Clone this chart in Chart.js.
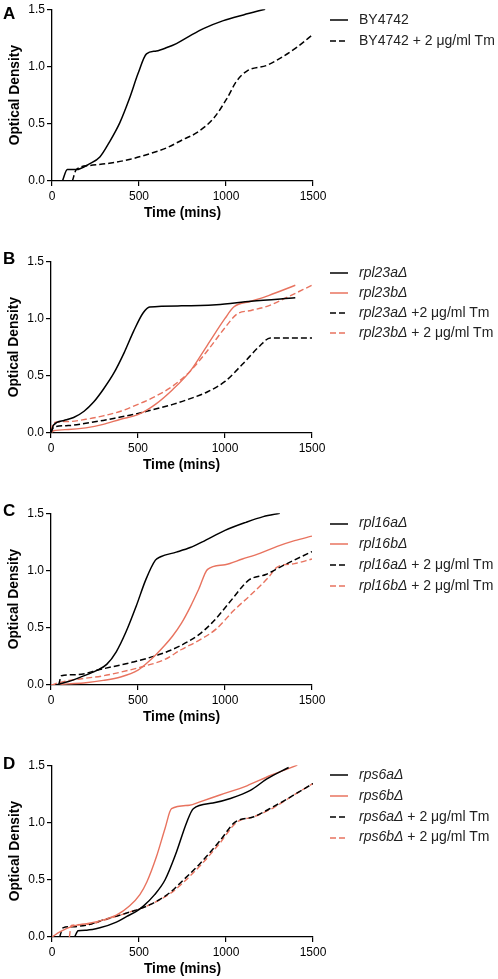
<!DOCTYPE html>
<html>
<head>
<meta charset="utf-8">
<script src="https://cdn.jsdelivr.net/npm/chart.js@4.4.0/dist/chart.umd.min.js"></script>
<style>
  body { margin: 0; background: #fff; font-family: "Liberation Sans", Arial, sans-serif; }
  #page { position: relative; width: 498px; height: 979px; overflow: hidden; }
  .panel { position: absolute; width: 330px; height: 230px; }
  .letter { position: absolute; left: 3px; font-weight: bold; font-size: 17px; line-height: 17px; color: #000; }
  .legend { position: absolute; left: 330px; font-size: 14px; color: #222; }
  .row { white-space: nowrap; }
  .row svg { vertical-align: middle; margin-right: 11px; }
</style>
</head>
<body>
<div id="page"></div>
<script>
// ---------------------------
// data (time in mins, optical density)
// ---------------------------
const xTicks = [0, 500, 1000, 1500];
const yTicks = [0, 0.5, 1.0, 1.5];

// A
const by4742Time = [60, 88, 140, 215, 275, 330, 390, 445, 495, 543, 600, 660, 715, 790, 870, 985, 1100, 1225];
const by4742OD = [0, 0.10, 0.10, 0.15, 0.21, 0.34, 0.51, 0.72, 0.94, 1.11, 1.135, 1.165, 1.20, 1.265, 1.33, 1.40, 1.45, 1.50];
const by4742TmTime = [117, 140, 215, 330, 450, 565, 660, 750, 830, 930, 1005, 1060, 1120, 1235, 1310, 1410, 1500];
const by4742TmOD = [0, 0.10, 0.135, 0.155, 0.19, 0.24, 0.29, 0.36, 0.42, 0.55, 0.72, 0.87, 0.96, 1.01, 1.07, 1.17, 1.28];

// B
const rpl23aTime = [0, 15, 75, 130, 190, 245, 300, 360, 420, 475, 530, 567, 750, 950, 1150, 1404];
const rpl23aOD = [0, 0.07, 0.11, 0.135, 0.19, 0.27, 0.38, 0.52, 0.70, 0.89, 1.05, 1.10, 1.11, 1.12, 1.15, 1.18];
const rpl23bTime = [0, 15, 100, 200, 300, 400, 500, 600, 700, 800, 900, 1000, 1050, 1150, 1250, 1404];
const rpl23bOD = [0, 0.02, 0.03, 0.045, 0.075, 0.12, 0.16, 0.25, 0.38, 0.54, 0.77, 1.0, 1.10, 1.15, 1.20, 1.29];
const rpl23aTmTime = [0, 15, 100, 200, 300, 400, 500, 600, 700, 800, 900, 1000, 1100, 1200, 1260, 1500];
const rpl23aTmOD = [0, 0.05, 0.065, 0.085, 0.11, 0.14, 0.17, 0.21, 0.25, 0.30, 0.36, 0.45, 0.60, 0.76, 0.83, 0.83];
const rpl23bTmTime = [0, 15, 100, 200, 300, 400, 500, 600, 700, 800, 900, 1000, 1070, 1150, 1250, 1350, 1500];
const rpl23bTmOD = [0.02, 0.09, 0.10, 0.12, 0.15, 0.19, 0.25, 0.32, 0.41, 0.54, 0.72, 0.92, 1.04, 1.07, 1.11, 1.18, 1.29];

// C
const rpl16aTime = [25, 100, 180, 260, 320, 375, 430, 490, 545, 600, 630, 720, 800, 870, 1000, 1120, 1220, 1315];
const rpl16aOD = [0, 0.03, 0.075, 0.125, 0.18, 0.29, 0.46, 0.69, 0.92, 1.09, 1.12, 1.16, 1.20, 1.25, 1.35, 1.42, 1.47, 1.50];
const rpl16bTime = [0, 100, 200, 300, 400, 500, 550, 600, 650, 700, 750, 800, 850, 900, 1000, 1100, 1200, 1300, 1400, 1500];
const rpl16bOD = [0, 0.01, 0.02, 0.04, 0.07, 0.13, 0.19, 0.26, 0.34, 0.43, 0.54, 0.68, 0.84, 1.01, 1.05, 1.10, 1.15, 1.21, 1.26, 1.30];
const rpl16aTmTime = [44, 60, 150, 280, 470, 630, 740, 850, 930, 1025, 1100, 1140, 1235, 1330, 1500];
const rpl16aTmOD = [0, 0.08, 0.09, 0.135, 0.20, 0.27, 0.34, 0.44, 0.55, 0.72, 0.86, 0.92, 0.965, 1.04, 1.165];
const rpl16bTmTime = [0, 70, 150, 300, 450, 550, 650, 750, 850, 950, 1050, 1150, 1250, 1300, 1400, 1500];
const rpl16bTmOD = [0, 0.03, 0.05, 0.08, 0.13, 0.17, 0.22, 0.31, 0.39, 0.49, 0.65, 0.79, 0.94, 1.03, 1.06, 1.10];

// D
const rps6aTime = [130, 150, 200, 275, 370, 430, 480, 525, 590, 650, 710, 774, 812, 925, 1025, 1140, 1235, 1360];
const rps6aOD = [0, 0.055, 0.06, 0.08, 0.13, 0.18, 0.22, 0.27, 0.37, 0.50, 0.72, 1.0, 1.12, 1.17, 1.21, 1.28, 1.38, 1.48];
const rps6bTime = [0, 45, 120, 215, 295, 370, 445, 505, 545, 600, 650, 687, 790, 850, 965, 1120, 1255, 1410];
const rps6bOD = [0, 0.045, 0.095, 0.12, 0.15, 0.19, 0.27, 0.37, 0.48, 0.70, 0.95, 1.12, 1.15, 1.18, 1.24, 1.32, 1.41, 1.50];
const rps6aTmTime = [44, 63, 120, 215, 295, 410, 560, 680, 736, 850, 965, 1050, 1160, 1275, 1390, 1500];
const rps6aTmOD = [0, 0.08, 0.09, 0.11, 0.15, 0.20, 0.28, 0.39, 0.47, 0.64, 0.84, 1.00, 1.05, 1.14, 1.24, 1.34];
const rps6bTmTime = [100, 110, 215, 295, 410, 560, 680, 736, 850, 965, 1060, 1160, 1275, 1390, 1500];
const rps6bTmOD = [0, 0.10, 0.11, 0.145, 0.20, 0.28, 0.38, 0.45, 0.62, 0.82, 1.00, 1.05, 1.13, 1.24, 1.34];

const tmSuffix = ' + 2 \u03bcg/ml Tm';

// ---------------------------
// panel layout
// ---------------------------
const BLACK = '#000';
const RED = '#e8735f';

const panels = [
  { letter: 'A', top: -0.3, left: 0.3, letterTop: 5.1, legendTop: 8.5, rowH: 21,
    series: [
      { name: 'BY4742', italic: false, suffix: '', time: by4742Time, od: by4742OD, color: BLACK, dashed: false },
      { name: 'BY4742', italic: false, suffix: tmSuffix, time: by4742TmTime, od: by4742TmOD, color: BLACK, dashed: true }
    ] },
  { letter: 'B', top: 252, left: -1.3, letterTop: 250.1, legendTop: 261.7, rowH: 20,
    series: [
      { name: 'rpl23a\u0394', italic: true, suffix: '', time: rpl23aTime, od: rpl23aOD, color: BLACK, dashed: false },
      { name: 'rpl23b\u0394', italic: true, suffix: '', time: rpl23bTime, od: rpl23bOD, color: RED, dashed: false },
      { name: 'rpl23a\u0394', italic: true, suffix: ' +2 \u03bcg/ml Tm', time: rpl23aTmTime, od: rpl23aTmOD, color: BLACK, dashed: true },
      { name: 'rpl23b\u0394', italic: true, suffix: tmSuffix, time: rpl23bTmTime, od: rpl23bTmOD, color: RED, dashed: true }
    ] },
  { letter: 'C', top: 504, left: -0.6, letterTop: 501.8, legendTop: 512.4, rowH: 20.8,
    series: [
      { name: 'rpl16a\u0394', italic: true, suffix: '', time: rpl16aTime, od: rpl16aOD, color: BLACK, dashed: false },
      { name: 'rpl16b\u0394', italic: true, suffix: '', time: rpl16bTime, od: rpl16bOD, color: RED, dashed: false },
      { name: 'rpl16a\u0394', italic: true, suffix: tmSuffix, time: rpl16aTmTime, od: rpl16aTmOD, color: BLACK, dashed: true },
      { name: 'rpl16b\u0394', italic: true, suffix: tmSuffix, time: rpl16bTmTime, od: rpl16bTmOD, color: RED, dashed: true }
    ] },
  { letter: 'D', top: 756.3, left: 0.3, letterTop: 754.5, legendTop: 764, rowH: 20.8,
    series: [
      { name: 'rps6a\u0394', italic: true, suffix: '', time: rps6aTime, od: rps6aOD, color: BLACK, dashed: false },
      { name: 'rps6b\u0394', italic: true, suffix: '', time: rps6bTime, od: rps6bOD, color: RED, dashed: false },
      { name: 'rps6a\u0394', italic: true, suffix: tmSuffix, time: rps6aTmTime, od: rps6aTmOD, color: BLACK, dashed: true },
      { name: 'rps6b\u0394', italic: true, suffix: tmSuffix, time: rps6bTmTime, od: rps6bTmOD, color: RED, dashed: true }
    ] }
];

Chart.defaults.font.family = '"Liberation Sans", Arial, sans-serif';
Chart.defaults.color = '#000';

function createChart(canvas, series) {
  return new Chart(canvas, {
    type: 'line',
    data: {
      datasets: series.map(s => ({
        data: s.time.map((t, i) => ({ x: t, y: s.od[i] })),
        borderColor: s.color,
        borderWidth: s.color === RED ? 1.4 : 1.5,
        borderDash: s.dashed ? [6, 3] : [],
        pointRadius: 0,
        fill: false,
        cubicInterpolationMode: 'monotone'
      }))
    },
    options: {
      responsive: false,
      animation: false,
      devicePixelRatio: 1,
      layout: { padding: { top: 7, right: 17, bottom: 0, left: 0 } },
      plugins: { legend: { display: false }, tooltip: { enabled: false } },
      scales: {
        x: {
          type: 'linear',
          min: xTicks[0],
          max: xTicks[xTicks.length - 1],
          afterBuildTicks: s => { s.ticks = xTicks.map(v => ({ value: v })); },
          ticks: { padding: 3, maxRotation: 0, font: { size: 12 }, color: '#000', callback: v => String(v) },
          grid: { drawOnChartArea: false, tickLength: 5, color: '#000', lineWidth: 1.2 },
          border: { color: '#000', width: 1.3 },
          title: { display: true, text: 'Time (mins)', color: '#000',
                   font: { size: 13.8, weight: 'bold' }, padding: { top: 0, bottom: 8.6 } },
          afterFit: s => { s.height = 49; }
        },
        y: {
          min: yTicks[0],
          max: yTicks[yTicks.length - 1],
          afterBuildTicks: s => { s.ticks = yTicks.map(v => ({ value: v })); },
          ticks: { padding: 2, font: { size: 12 }, color: '#000', callback: v => v.toFixed(1) },
          grid: { drawOnChartArea: false, tickLength: 5, color: '#000', lineWidth: 1.2 },
          border: { color: '#000', width: 1.3 },
          title: { display: true, text: 'Optical Density', color: '#000',
                   font: { size: 13.8, weight: 'bold' }, padding: { top: 6.9, bottom: 0 } },
          afterFit: s => { s.width = 52; }
        }
      }
    }
  });
}

function sampleSvg(s) {
  const dash = s.dashed ? ' stroke-dasharray="6,3"' : '';
  return `<svg width="18" height="4"><line x1="0" y1="2" x2="18" y2="2" stroke="${s.color}" stroke-width="1.5"${dash}/></svg>`;
}

const page = document.getElementById('page');

panels.forEach(p => {
  const wrap = document.createElement('div');
  wrap.className = 'panel';
  wrap.style.top = p.top + 'px';
  wrap.style.left = p.left + 'px';
  const canvas = document.createElement('canvas');
  canvas.width = 330;
  canvas.height = 230;
  wrap.appendChild(canvas);
  page.appendChild(wrap);
  createChart(canvas, p.series);

  const letter = document.createElement('div');
  letter.className = 'letter';
  letter.style.top = p.letterTop + 'px';
  letter.textContent = p.letter;
  page.appendChild(letter);

  const legend = document.createElement('div');
  legend.className = 'legend';
  legend.style.top = p.legendTop + 'px';
  p.series.forEach(s => {
    const row = document.createElement('div');
    row.className = 'row';
    row.style.height = p.rowH + 'px';
    row.style.lineHeight = p.rowH + 'px';
    const name = s.italic ? `<i>${s.name}</i>` : s.name;
    row.innerHTML = sampleSvg(s) + name + s.suffix;
    legend.appendChild(row);
  });
  page.appendChild(legend);
});
</script>
</body>
</html>
